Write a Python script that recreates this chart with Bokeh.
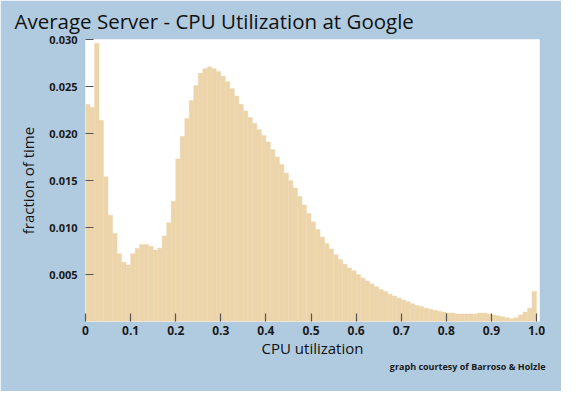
import numpy as np
from bokeh.plotting import figure
from bokeh.models import Range1d, FixedTicker, Title, ColumnDataSource
from bokeh.embed import file_html
from bokeh.resources import INLINE

# --- data ---
bin_width = 0.01
fraction_of_time = [
    0.0231, 0.0228, 0.0296, 0.0214, 0.0154, 0.0113, 0.0094, 0.0072, 0.0063, 0.0060,
    0.0072, 0.0078, 0.0082, 0.0082, 0.0080, 0.0076, 0.0078, 0.0091, 0.0105, 0.0128,
    0.0173, 0.0197, 0.0216, 0.0235, 0.0251, 0.0264, 0.0269, 0.0271, 0.0269, 0.0266,
    0.0261, 0.0255, 0.0248, 0.0240, 0.0231, 0.0224, 0.0217, 0.0211, 0.0204, 0.0198,
    0.0191, 0.0183, 0.0175, 0.0167, 0.0158, 0.0150, 0.0142, 0.0133, 0.0124, 0.0115,
    0.0106, 0.0098, 0.0090, 0.0083, 0.0077, 0.0071, 0.0066, 0.0061, 0.0057, 0.0054,
    0.0050, 0.0046, 0.0043, 0.0040, 0.0037, 0.0034, 0.0032, 0.0029, 0.0027, 0.0025,
    0.0023, 0.0021, 0.0019, 0.0017, 0.0016, 0.0014, 0.0013, 0.0012, 0.0011, 0.0010,
    0.0009, 0.0009, 0.0008, 0.0008, 0.0008, 0.0008, 0.0008, 0.0009, 0.0009, 0.0008,
    0.0007, 0.0006, 0.0005, 0.0004, 0.0003, 0.0004, 0.0007, 0.0010, 0.0014, 0.0032,
]
xtick_values = [0, 0.1, 0.2, 0.3, 0.4, 0.5, 0.6, 0.7, 0.8, 0.9, 1.0]
xtick_labels = ["0", "0.1", "0.2", "0.3", "0.4", "0.5", "0.6", "0.7", "0.8", "0.9", "1.0"]
ytick_values = [0.005, 0.010, 0.015, 0.020, 0.025, 0.030]
ytick_labels = ["0.005", "0.010", "0.015", "0.020", "0.025", "0.030"]

title_text = "Average Server - CPU Utilization at Google"
x_label = "CPU utilization"
y_label = "fraction of time"
credit_text = "graph courtesy of Barroso & Holzle"

# --- build ---
n = len(fraction_of_time)
left = np.arange(n) * bin_width
source = ColumnDataSource(dict(left=left, right=left + bin_width,
                               top=fraction_of_time, bottom=np.zeros(n)))

BLUE = "#b0cbe0"
BAR = "#edd5ab"
FONT = "Open Sans"

p = figure(width=561, height=391, output_backend="svg", toolbar_location=None,
           x_range=Range1d(0, 1.0066), y_range=Range1d(0, 0.030),
           min_border_left=85, min_border_right=22, min_border_top=39,
           min_border_bottom=70)
p.border_fill_color = BLUE
p.background_fill_color = "white"
p.outline_line_color = None
p.grid.visible = False

p.quad(left="left", right="right", top="top", bottom="bottom", source=source,
       fill_color=BAR, line_color=BAR, line_width=0.4)

p.title.text = title_text
p.title.text_font = FONT
p.title.text_font_size = "20.5px"
p.title.text_font_style = "normal"
p.title.text_color = "#111111"
p.title.offset = -71
p.title.standoff = 9

for ax in (p.xaxis[0], p.yaxis[0]):
    ax.axis_line_color = None
    ax.major_tick_in = 8
    ax.major_tick_out = 0
    ax.minor_tick_line_color = None
    ax.major_tick_line_color = "#555555"
    ax.major_tick_line_width = 1.2
    ax.major_label_text_font = FONT
    ax.major_label_text_font_size = "12px"
    ax.major_label_text_font_style = "bold"
    ax.major_label_text_color = "#1a1a1a"
    ax.axis_label_text_font = FONT
    ax.axis_label_text_font_size = "15px"
    ax.axis_label_text_font_style = "normal"
    ax.axis_label_text_color = "#111111"

p.xaxis.ticker = FixedTicker(ticks=xtick_values)
p.xaxis.major_label_overrides = dict(zip(xtick_values, xtick_labels))
p.xaxis.axis_label = x_label
p.xaxis.major_label_standoff = 4
p.xaxis.axis_label_standoff = 0

p.yaxis.ticker = FixedTicker(ticks=ytick_values)
p.yaxis.major_label_overrides = dict(zip(ytick_values, ytick_labels))
p.yaxis.axis_label = y_label
p.yaxis.major_label_standoff = 8
p.yaxis.axis_label_standoff = 8
p.yaxis.major_label_text_font_size = "11px"

credit = Title(text=credit_text, align="right", offset=-6, standoff=-6,
               text_font=FONT, text_font_size="9px", text_font_style="bold",
               text_color="#1a1a1a")
p.add_layout(credit, "below")

open("out.html", "w").write(file_html(p, INLINE))
